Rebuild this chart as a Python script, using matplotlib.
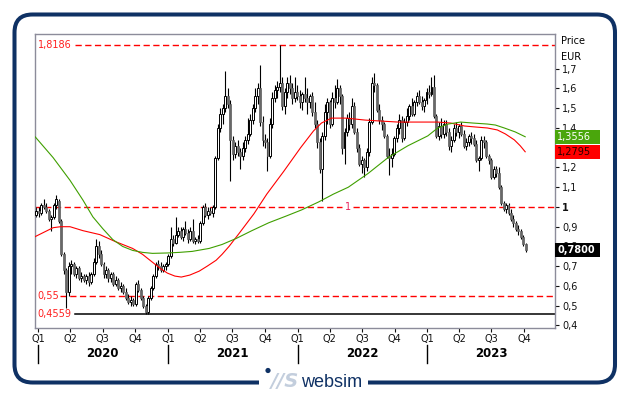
import numpy as np
import pandas as pd
import matplotlib
matplotlib.use("Agg")
import matplotlib.pyplot as plt
import matplotlib.dates as mdates
from matplotlib.patches import Rectangle, FancyBboxPatch, Circle
from matplotlib.transforms import IdentityTransform

# weekly candles, first one is the week of 27.12.2019
opens = [
    .96, .98, .97, 1.01, 1.00, .98, .94, .95, 1.01, 1.03,
    .93, .76, .68, .57, .70, .71, .66, .69, .64, .65,
    .63, .65, .62, .66, .72, .80, .76, .71, .66, .68,
    .64, .66, .61, .63, .59, .60, .57, .54, .52, .53,
    .51, .61, .58, .54, .50, .47, .54, .59, .65, .71,
    .70, .68, .70, .71, .75, .84, .82, .86, .88, .85,
    .89, .87, .84, .88, .83, .84, .83, .92, 1.00, .96,
    .98, .97, 1.00, 1.25, 1.40, 1.47, 1.50, 1.56, 1.52, 1.34,
    1.27, 1.31, 1.28, 1.26, 1.30, 1.34, 1.37, 1.44, 1.50, 1.56,
    1.60, 1.43, 1.34, 1.33, 1.26, 1.42, 1.55, 1.59, 1.61, 1.63,
    1.51, 1.58, 1.63, 1.60, 1.55, 1.58, 1.56, 1.53, 1.57, 1.55,
    1.53, 1.56, 1.48, 1.42, 1.33, 1.19, 1.36, 1.48, 1.53, 1.42,
    1.55, 1.53, 1.60, 1.56, 1.30, 1.38, 1.45, 1.42, 1.51, 1.38,
    1.30, 1.22, 1.24, 1.20, 1.28, 1.43, 1.63, 1.62, 1.49, 1.44,
    1.42, 1.36, 1.26, 1.25, 1.27, 1.35, 1.40, 1.44, 1.35, 1.43,
    1.46, 1.51, 1.47, 1.53, 1.56, 1.53, 1.51, 1.54, 1.58, 1.57,
    1.61, 1.46, 1.36, 1.41, 1.37, 1.42, 1.38, 1.31, 1.34, 1.40,
    1.38, 1.41, 1.37, 1.31, 1.33, 1.36, 1.35, 1.32, 1.24, 1.25,
    1.34, 1.33, 1.26, 1.24, 1.15, 1.19, 1.17, 1.10, 1.02, .99,
    1.01, .97, .94, .92, .89, .88, .85, .81,
]
highs = [
    1.00, 1.00, 1.02, 1.04, 1.02, .99, .96, 1.02, 1.06, 1.04,
    .94, .77, .69, .72, .73, .72, .70, .70, .67, .66,
    .66, .67, .67, .74, .84, .83, .78, .72, .70, .69,
    .67, .67, .65, .64, .62, .61, .59, .56, .55, .54,
    .62, .63, .59, .55, .51, .55, .60, .66, .72, .73,
    .72, .71, .72, .76, .90, .86, .95, .90, .90, .90,
    .93, .89, .90, .94, .85, .86, .93, 1.01, 1.02, 1.00,
    1.00, 1.01, 1.26, 1.42, 1.50, 1.52, 1.69, 1.60, 1.54, 1.36,
    1.33, 1.34, 1.30, 1.33, 1.36, 1.45, 1.47, 1.52, 1.60, 1.63,
    1.72, 1.46, 1.37, 1.35, 1.45, 1.58, 1.62, 1.64, 1.8186, 1.66,
    1.60, 1.66, 1.67, 1.63, 1.66, 1.62, 1.59, 1.58, 1.66, 1.60,
    1.57, 1.58, 1.53, 1.44, 1.35, 1.38, 1.52, 1.55, 1.54, 1.58,
    1.62, 1.65, 1.62, 1.57, 1.40, 1.47, 1.48, 1.55, 1.53, 1.40,
    1.32, 1.26, 1.25, 1.30, 1.45, 1.66, 1.68, 1.63, 1.52, 1.46,
    1.43, 1.37, 1.30, 1.30, 1.36, 1.42, 1.47, 1.46, 1.45, 1.50,
    1.52, 1.55, 1.54, 1.58, 1.59, 1.56, 1.55, 1.60, 1.62, 1.66,
    1.67, 1.47, 1.43, 1.45, 1.44, 1.44, 1.40, 1.36, 1.42, 1.43,
    1.42, 1.43, 1.39, 1.35, 1.37, 1.38, 1.37, 1.34, 1.26, 1.36,
    1.36, 1.34, 1.27, 1.25, 1.21, 1.21, 1.20, 1.11, 1.03, 1.02,
    1.02, .99, .96, .93, .91, .89, .86, .82,
]
lows = [
    .95, .95, .96, .99, .97, .93, .88, .94, .99, .92,
    .75, .66, .49, .55, .66, .65, .64, .63, .62, .62,
    .61, .60, .61, .65, .71, .74, .70, .64, .64, .62,
    .62, .60, .60, .58, .57, .56, .53, .51, .50, .50,
    .50, .57, .53, .49, .456, .46, .53, .58, .64, .68,
    .67, .67, .68, .70, .74, .80, .81, .85, .84, .83,
    .86, .82, .83, .82, .81, .82, .82, .91, .95, .94,
    .96, .95, .99, 1.24, 1.38, 1.42, 1.48, 1.50, 1.13, 1.24,
    1.25, 1.26, 1.19, 1.24, 1.28, 1.32, 1.36, 1.42, 1.48, 1.52,
    1.41, 1.31, 1.30, 1.18, 1.25, 1.40, 1.53, 1.55, 1.58, 1.49,
    1.47, 1.55, 1.57, 1.52, 1.53, 1.54, 1.50, 1.49, 1.53, 1.47,
    1.50, 1.46, 1.40, 1.30, 1.17, 1.03, 1.34, 1.42, 1.40, 1.41,
    1.50, 1.52, 1.52, 1.27, 1.22, 1.36, 1.39, 1.40, 1.37, 1.28,
    1.21, 1.17, 1.15, 1.18, 1.26, 1.42, 1.58, 1.48, 1.42, 1.39,
    1.35, 1.25, 1.16, 1.20, 1.26, 1.33, 1.37, 1.33, 1.34, 1.41,
    1.44, 1.46, 1.46, 1.51, 1.52, 1.49, 1.48, 1.52, 1.55, 1.56,
    1.45, 1.35, 1.34, 1.35, 1.35, 1.36, 1.29, 1.28, 1.33, 1.36,
    1.35, 1.36, 1.30, 1.29, 1.31, 1.32, 1.31, 1.23, 1.18, 1.24,
    1.30, 1.25, 1.22, 1.14, 1.14, 1.15, 1.09, 1.01, .98, .97,
    .96, .93, .90, .88, .86, .84, .80, .77,
]
closes = [
    .98, .97, 1.01, 1.00, .98, .94, .95, 1.01, 1.04, .93,
    .76, .68, .57, .70, .71, .66, .69, .64, .65, .63,
    .65, .62, .66, .72, .80, .76, .71, .66, .68, .64,
    .66, .61, .63, .59, .60, .57, .54, .52, .53, .51,
    .61, .58, .54, .50, .47, .54, .59, .65, .71, .70,
    .68, .70, .71, .75, .84, .82, .86, .88, .85, .89,
    .87, .84, .88, .83, .84, .83, .92, 1.00, .96, .98,
    .97, 1.00, 1.25, 1.40, 1.47, 1.50, 1.56, 1.52, 1.34, 1.27,
    1.31, 1.28, 1.26, 1.30, 1.34, 1.37, 1.44, 1.50, 1.56, 1.60,
    1.43, 1.34, 1.33, 1.26, 1.42, 1.55, 1.59, 1.61, 1.63, 1.51,
    1.58, 1.63, 1.60, 1.55, 1.58, 1.56, 1.53, 1.57, 1.55, 1.53,
    1.56, 1.48, 1.42, 1.33, 1.19, 1.36, 1.48, 1.53, 1.42, 1.55,
    1.53, 1.60, 1.56, 1.30, 1.38, 1.45, 1.42, 1.51, 1.38, 1.30,
    1.22, 1.24, 1.20, 1.28, 1.43, 1.63, 1.62, 1.49, 1.44, 1.42,
    1.36, 1.26, 1.25, 1.27, 1.35, 1.40, 1.44, 1.35, 1.43, 1.46,
    1.51, 1.47, 1.53, 1.56, 1.53, 1.51, 1.54, 1.58, 1.57, 1.61,
    1.46, 1.36, 1.41, 1.37, 1.42, 1.38, 1.31, 1.34, 1.40, 1.38,
    1.41, 1.37, 1.31, 1.33, 1.36, 1.35, 1.32, 1.24, 1.25, 1.34,
    1.33, 1.26, 1.24, 1.15, 1.19, 1.17, 1.10, 1.02, .99, 1.01,
    .97, .94, .92, .89, .88, .85, .81, .78,
]

# moving averages, read at some points (weeks after 1.1.2020)
red_weeks = [-1.2, 2, 6, 9, 12.8, 18, 24.8, 31, 35, 38, 42, 46, 49, 52, 55,
             57.6, 61, 64.8, 68, 71.6, 74, 76.8, 80.8, 86.8, 92, 98.8, 105.6,
             110.8, 114, 118, 124, 131.6, 138, 144.8, 152, 160.8, 166, 171.6,
             176, 180.8, 184.8, 188, 191.6, 194, 196]
red_vals = [0.85, 0.87, 0.895, 0.90, 0.90, 0.88, 0.86, 0.825, 0.805, 0.79, 0.76,
            0.72, 0.69, 0.665, 0.65, 0.645, 0.655, 0.675, 0.70, 0.73, 0.76,
            0.80, 0.865, 0.965, 1.065, 1.18, 1.30, 1.385, 1.425, 1.45, 1.45,
            1.44, 1.435, 1.43, 1.43, 1.43, 1.425, 1.41, 1.405, 1.40, 1.39,
            1.37, 1.34, 1.31, 1.2795]
green_weeks = [-1.2, 6, 12.8, 18, 22, 26, 30, 34, 38, 42, 46, 52, 56.8, 62,
               68.8, 74, 79.6, 86, 92.8, 100, 106, 112.8, 118.8, 124.8, 132.8,
               140.8, 148.8, 156.8, 160.8, 165, 170, 175, 180.8, 184, 187.6,
               192, 196]
green_vals = [1.355, 1.25, 1.135, 1.035, 0.95, 0.89, 0.835, 0.80, 0.78, 0.77,
              0.765, 0.767, 0.77, 0.775, 0.79, 0.81, 0.84, 0.88, 0.92, 0.955,
              0.985, 1.025, 1.065, 1.10, 1.17, 1.25, 1.31, 1.36, 1.40, 1.42,
              1.43, 1.425, 1.42, 1.415, 1.40, 1.38, 1.3556]

levels = [1.8186, 1.0, 0.55, 0.4559]
y_ticks = [0.4, 0.5, 0.6, 0.7, 0.8, 0.9, 1.0, 1.1, 1.2, 1.3, 1.4, 1.5, 1.6, 1.7]
years = [2020, 2021, 2022, 2023]

assert len(opens) == len(highs) == len(lows) == len(closes)

W, H = 629, 395
fig = plt.figure(figsize=(W / 100, H / 100), dpi=100)
fig.patch.set_facecolor("white")
ax = fig.add_axes([35 / W, 1 - 328 / H, 520 / W, 294 / H])

dates = pd.date_range("2019-12-27", periods=len(closes), freq="7D")
x = mdates.date2num(dates)
o = np.array(opens)
c = np.array(closes)
up = c >= o

# Kerzen
ax.vlines(x, lows, highs, color="black", lw=0.8, zorder=2)
ax.bar(x[up], np.maximum(c[up] - o[up], 0.004), bottom=o[up], width=5.5,
       facecolor="white", edgecolor="black", lw=0.7, zorder=3)
ax.bar(x[~up], c[~up] - o[~up], bottom=o[~up], width=5.5,
       facecolor="#686868", edgecolor="#5e5e5e", lw=0.5, zorder=3)

# Durchschnitte
base = pd.Timestamp("2020-01-01")
red_x = mdates.date2num(base + pd.to_timedelta(np.array(red_weeks) * 7, unit="D"))
green_x = mdates.date2num(base + pd.to_timedelta(np.array(green_weeks) * 7, unit="D"))
ax.plot(red_x, red_vals, color="#ff0000", lw=0.8, zorder=4)
ax.plot(green_x, green_vals, color="#3f9f00", lw=0.8, zorder=4)

# Linien
dash = (0, (4.5, 2.5))
lbl_red = "#ff2020"
ax.axhline(levels[0], 0.077, 1, color="red", lw=1, ls=dash, zorder=1)
ax.axhline(levels[1], 0, 0.59, color="red", lw=1, ls=dash, zorder=1)
ax.axhline(levels[1], 0.612, 1, color="red", lw=1, ls=dash, zorder=1)
ax.axhline(levels[2], 0.048, 1, color="red", lw=1, ls=dash, zorder=1)
ax.axhline(levels[3], 0.077, 1, color="black", lw=1.1, zorder=1)
yt = ax.get_yaxis_transform()
ax.text(0.005, levels[0], "1,8186", color=lbl_red, fontsize=7, va="center", transform=yt)
ax.text(0.601, levels[1], "1", color="#e8205a", fontsize=7, va="center", ha="center", transform=yt)
ax.text(0.005, levels[2], "0,55", color=lbl_red, fontsize=7, va="center", transform=yt)
ax.text(0.005, levels[3], "0,4559", color=lbl_red, fontsize=7, va="center", transform=yt)

ax.set_xlim(mdates.date2num(pd.Timestamp("2019-12-23")), mdates.date2num(pd.Timestamp("2023-12-27")))
ax.set_ylim(0.387, 1.876)

# y-Achse rechts, 1,3 liegt ganz unter dem roten Kästchen
ax.yaxis.tick_right()
ylabels = []
for v in y_ticks:
    if abs(v - 1) < 1e-9:
        ylabels.append("1")
    elif abs(v - 1.3) < 1e-9:
        ylabels.append("")
    else:
        ylabels.append(f"{v:.1f}".replace(".", ","))
ax.set_yticks(y_ticks, ylabels)
for t in ax.get_yticklabels():
    if t.get_text() == "1":
        t.set_fontweight("bold")
        t.set_fontsize(8)
ax.tick_params(axis="y", length=3, width=0.8, pad=2, labelsize=7, colors="#111111")
ax.text(1.011, 0.976, "Price", fontsize=7, va="center", transform=ax.transAxes)
ax.text(1.011, 0.922, "EUR", fontsize=7, va="center", transform=ax.transAxes)

# x-Achse Quartale
qdates = pd.date_range("2020-01-01", "2023-10-01", freq="QS")
ax.set_xticks(mdates.date2num(qdates), [f"Q{d.quarter}" for d in qdates])
ax.tick_params(axis="x", length=3, width=0.8, pad=1.5, labelsize=7, colors="#111111")
xt = ax.get_xaxis_transform()
for yr in years:
    xm = mdates.date2num(pd.Timestamp(f"{yr}-07-01"))
    ax.text(xm, -0.088, str(yr), fontsize=8.5, fontweight="bold", ha="center", va="center",
            transform=xt)
    xs = mdates.date2num(pd.Timestamp(f"{yr}-01-01"))
    ax.plot([xs, xs], [-0.058, -0.119], color="black", lw=1, transform=xt, clip_on=False)

for s in ax.spines.values():
    s.set_color("#8c8c9a")
    s.set_linewidth(1)

# Kästchen mit letzten Werten
boxes = [(green_vals[-1], "#4aa60c", "white"),
         (red_vals[-1], "#ff0000", "#2a0000"),
         (closes[-1], "black", "white")]
for val, fc, tc in boxes:
    ax.add_patch(Rectangle((1.0, val - 0.035), 0.0865, 0.07, transform=yt, facecolor=fc,
                           edgecolor="none", clip_on=False, zorder=5))
    ax.text(1.004, val, f"{val:.4f}".replace(".", ","), color=tc, fontsize=7,
            fontweight="bold" if fc == "black" else "normal",
            va="center", transform=yt, zorder=6, clip_on=False)

# Rahmen mit Logo
frame = FancyBboxPatch((14.5, 12.5), 600.5, 368, boxstyle="round,pad=0,rounding_size=18",
                       transform=IdentityTransform(), facecolor="none",
                       edgecolor="#0f3164", lw=2.9)
fig.add_artist(frame)
fig.add_artist(Rectangle((259, 7), 109, 11, transform=IdentityTransform(),
                         facecolor="white", edgecolor="none"))
fig.add_artist(Circle((268, 24.5), 2.6, transform=IdentityTransform(),
                      facecolor="#0f3164", edgecolor="none"))
fig.text(271 / W, 8 / H, "//S", fontsize=14, fontweight="bold", style="italic",
         color="#c3cedd", va="baseline", ha="left")
fig.text(301 / W, 8 / H, "websim", fontsize=13, color="#0f3164", va="baseline", ha="left",
         family="Liberation Sans")

fig.savefig("out.png", dpi=100)
